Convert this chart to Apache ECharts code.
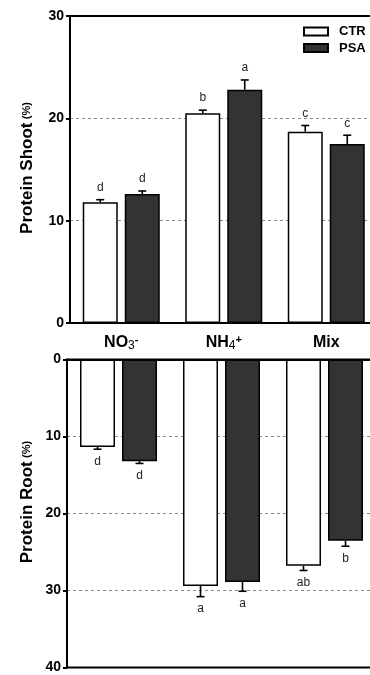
<!DOCTYPE html>
<html>
<head>
<meta charset="utf-8">
<script src="https://cdn.jsdelivr.net/npm/echarts@6/dist/echarts.min.js"></script>
<style>
  html, body { margin: 0; padding: 0; background: #fff; }
  #chart { width: 370px; height: 675px; }
</style>
</head>
<body>
<div id="chart"></div>
<script>
// Nitrogen source treatments
const categories = ['NO3', 'NH4', 'Mix'];
const seriesNames = ['CTR', 'PSA'];

// Shoot protein content (%), mean and standard error
const shootCTR = [11.8, 20.5, 18.7];
const shootCTRErr = [0.25, 0.3, 0.6];
const shootPSA = [12.6, 22.8, 17.5];
const shootPSAErr = [0.3, 0.95, 0.85];
const shootCTRLetters = ['d', 'b', 'c'];
const shootPSALetters = ['d', 'a', 'c'];

// Root protein content (%), mean and standard error
const rootCTR = [11.35, 29.4, 26.8];
const rootCTRErr = [0.3, 1.4, 0.6];
const rootPSA = [13.2, 28.9, 23.55];
const rootPSAErr = [0.3, 1.2, 0.7];
const rootCTRLetters = ['d', 'a', 'ab'];
const rootPSALetters = ['d', 'a', 'b'];

// Axis ticks
const shootTicks = [0, 10, 20, 30];
const rootTicks = [0, 10, 20, 30, 40];

const FONT = 'Liberation Sans, Arial, Helvetica, sans-serif';
const BAR_W = 35;
const BAR_GAP = 7;
const HALF_STEP = (BAR_W + BAR_GAP) / 2;

const chart = echarts.init(document.getElementById('chart'));

const catLabel = {
  NO3: '{m|NO}{sub|3}{sup|-}',
  NH4: '{m|NH}{sub|4}{sup|+}',
  Mix: '{m|Mix}'
};

function errorSeries(name, grid, means, errs, letters, side, dir) {
  return {
    type: 'custom',
    name: name + ' error',
    xAxisIndex: grid,
    yAxisIndex: grid,
    z: 5,
    silent: true,
    data: means.map((m, i) => [i, m, errs[i]]),
    renderItem: function (params, api) {
      const i = api.value(0);
      const mean = api.value(1);
      const err = api.value(2);
      const letter = letters[params.dataIndex];
      const x = api.coord([i, 0])[0] + side * HALF_STEP;
      const yBase = api.coord([i, mean])[1];
      const yTip = api.coord([i, mean + err])[1];
      const lineStyle = { stroke: '#000', lineWidth: 1.6 };
      return {
        type: 'group',
        children: [
          { type: 'line', shape: { x1: x, y1: yBase, x2: x, y2: yTip }, style: lineStyle },
          { type: 'line', shape: { x1: x - 4, y1: yTip, x2: x + 4, y2: yTip }, style: lineStyle },
          {
            type: 'text',
            style: {
              text: letter,
              x: x,
              y: yTip + dir * 12,
              align: 'center',
              verticalAlign: 'middle',
              fontSize: 12,
              fontFamily: FONT,
              fill: '#222'
            }
          }
        ]
      };
    }
  };
}

function barSeries(name, grid, values, color) {
  return {
    type: 'bar',
    name: name,
    xAxisIndex: grid,
    yAxisIndex: grid,
    data: values,
    barWidth: BAR_W,
    barGap: (BAR_GAP / BAR_W * 100) + '%',
    itemStyle: { color: color, borderColor: '#000', borderWidth: 1.5 },
    emphasis: { disabled: true },
    z: 3
  };
}

const axisLabelStyle = { color: '#000', fontSize: 14, fontWeight: 'bold', fontFamily: FONT, margin: 6 };
const splitLineStyle = {
  show: true,
  showMinLine: false,
  showMaxLine: false,
  lineStyle: { color: '#888', type: [3, 3], width: 1 }
};

const option = {
  animation: false,
  backgroundColor: '#fff',
  legend: {
    data: seriesNames,
    orient: 'vertical',
    left: 303,
    top: 25,
    padding: 0,
    itemWidth: 24,
    itemHeight: 8,
    itemGap: 3.5,
    icon: 'rect',
    selectedMode: false,
    textStyle: { fontSize: 13, fontWeight: 'bold', fontFamily: FONT, color: '#000', padding: [0, 0, 0, 6] }
  },
  grid: [
    { left: 70, top: 16, height: 307, right: -7.5, outerBoundsMode: 'none', containLabel: false, show: true, borderColor: '#000', borderWidth: 2, backgroundColor: 'transparent' },
    { left: 67, top: 359.5, height: 308, right: -6, outerBoundsMode: 'none', containLabel: false, show: true, borderColor: '#000', borderWidth: 2, backgroundColor: 'transparent' }
  ],
  xAxis: [
    {
      type: 'category',
      gridIndex: 0,
      data: categories,
      position: 'bottom',
      axisLine: { lineStyle: { color: '#000', width: 2 } },
      axisTick: { alignWithLabel: true, length: 5, lineStyle: { color: '#000', width: 2 } },
      axisLabel: {
        interval: 0,
        hideOverlap: false,
        margin: 11,
        formatter: v => catLabel[v],
        rich: {
          m: { fontSize: 16, fontWeight: 'bold', fontFamily: FONT, color: '#000', lineHeight: 18 },
          sub: { fontSize: 12, fontFamily: FONT, color: '#000', verticalAlign: 'bottom', lineHeight: 14 },
          sup: { fontSize: 11, fontWeight: 'bold', fontFamily: FONT, color: '#000', verticalAlign: 'top', lineHeight: 10 }
        }
      }
    },
    {
      type: 'category',
      gridIndex: 1,
      data: categories,
      position: 'top',
      axisLine: { lineStyle: { color: '#000', width: 2 } },
      axisTick: { alignWithLabel: true, length: 5, lineStyle: { color: '#000', width: 2 } },
      axisLabel: { show: false }
    }
  ],
  yAxis: [
    {
      type: 'value',
      gridIndex: 0,
      min: shootTicks[0],
      max: shootTicks[shootTicks.length - 1],
      interval: 10,
      axisLine: { show: true, lineStyle: { color: '#000', width: 2 } },
      axisTick: { show: true, length: 4, lineStyle: { color: '#000', width: 2 } },
      axisLabel: axisLabelStyle,
      splitLine: splitLineStyle
    },
    {
      type: 'value',
      gridIndex: 1,
      inverse: true,
      min: rootTicks[0],
      max: rootTicks[rootTicks.length - 1],
      interval: 10,
      axisLine: { show: true, lineStyle: { color: '#000', width: 2 } },
      axisTick: { show: true, length: 4, lineStyle: { color: '#000', width: 2 } },
      axisLabel: axisLabelStyle,
      splitLine: splitLineStyle
    }
  ],
  graphic: [
    {
      type: 'text',
      x: 27, y: 168,
      rotation: Math.PI / 2,
      style: {
        text: '{a|Protein Shoot} {b|(%)}',
        align: 'center',
        verticalAlign: 'middle',
        rich: {
          a: { fontSize: 17, fontWeight: 'bold', fontFamily: FONT, fill: '#000' },
          b: { fontSize: 11, fontWeight: 'bold', fontFamily: FONT, fill: '#000' }
        }
      }
    },
    {
      type: 'text',
      x: 27, y: 502,
      rotation: Math.PI / 2,
      style: {
        text: '{a|Protein Root} {b|(%)}',
        align: 'center',
        verticalAlign: 'middle',
        rich: {
          a: { fontSize: 17, fontWeight: 'bold', fontFamily: FONT, fill: '#000' },
          b: { fontSize: 11, fontWeight: 'bold', fontFamily: FONT, fill: '#000' }
        }
      }
    }
  ],
  series: [
    barSeries('CTR', 0, shootCTR, '#ffffff'),
    barSeries('PSA', 0, shootPSA, '#333333'),
    barSeries('CTR', 1, rootCTR, '#ffffff'),
    barSeries('PSA', 1, rootPSA, '#333333'),
    errorSeries('CTR', 0, shootCTR, shootCTRErr, shootCTRLetters, -1, -1),
    errorSeries('PSA', 0, shootPSA, shootPSAErr, shootPSALetters, 1, -1),
    errorSeries('CTR', 1, rootCTR, rootCTRErr, rootCTRLetters, -1, 1),
    errorSeries('PSA', 1, rootPSA, rootPSAErr, rootPSALetters, 1, 1)
  ]
};

chart.setOption(option);
</script>
</body>
</html>
